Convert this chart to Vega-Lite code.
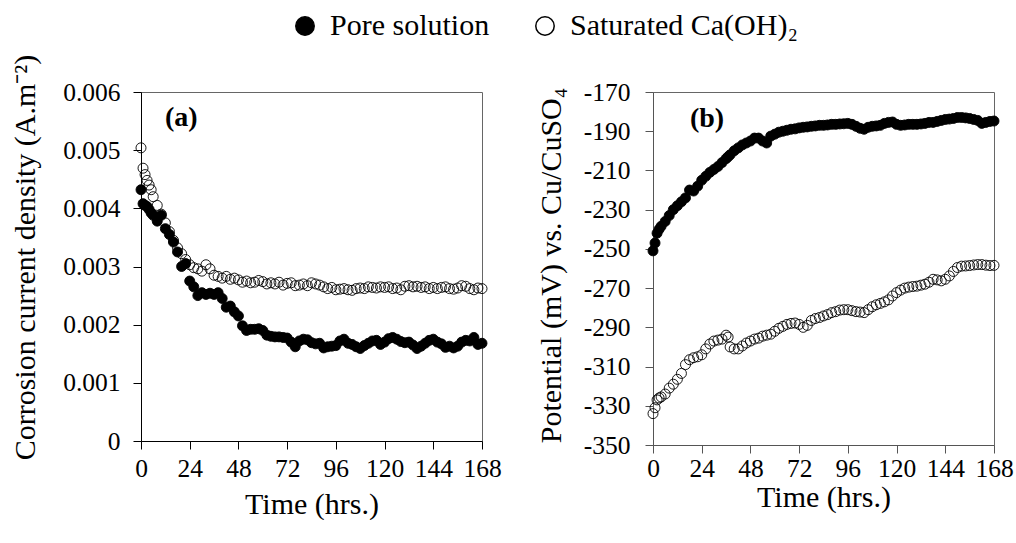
{
  "$schema": "https://vega.github.io/schema/vega-lite/v6.json",
  "padding": {"left": 9, "top": 10, "right": 0, "bottom": 0},
  "background": "white",
  "datasets": {
    "a": [
      {"t":0,"pore":0.00432,"sat":0.00504},{"t":1,"pore":0.00408,"sat":0.00469},{"t":2,"pore":0.00405,"sat":0.00458},
      {"t":3,"pore":0.00403,"sat":0.00448},{"t":4,"pore":0.00398,"sat":0.00440},{"t":5,"pore":0.00392,"sat":0.00432},
      {"t":6,"pore":0.00388,"sat":0.00420},{"t":8,"pore":0.00378,"sat":0.00405},{"t":10,"pore":0.00388,"sat":0.00390},
      {"t":12,"pore":0.00365,"sat":0.00375},{"t":14,"pore":0.00355,"sat":0.00360},{"t":16,"pore":0.00342,"sat":0.00345},
      {"t":18,"pore":0.00325,"sat":0.00332},{"t":20,"pore":0.00300,"sat":0.00322},{"t":22,"pore":0.00305,"sat":0.00312},
      {"t":24,"pore":0.00275,"sat":0.00303},{"t":26,"pore":0.00265,"sat":0.00298},{"t":28,"pore":0.00250,"sat":0.00296},
      {"t":30,"pore":0.00255,"sat":0.00292},{"t":32,"pore":0.00252,"sat":0.00303},{"t":34,"pore":0.00254,"sat":0.00296},
      {"t":36,"pore":0.00252,"sat":0.00285},{"t":38,"pore":0.00255,"sat":0.00283},{"t":40,"pore":0.00245,"sat":0.00280},
      {"t":42,"pore":0.00230,"sat":0.00283},{"t":44,"pore":0.00232,"sat":0.00278},{"t":46,"pore":0.00222,"sat":0.00280},
      {"t":48,"pore":0.00215,"sat":0.00277},{"t":50,"pore":0.00198,"sat":0.00273},{"t":52,"pore":0.00190,"sat":0.00275},
      {"t":54,"pore":0.00192,"sat":0.00272},{"t":56,"pore":0.00192,"sat":0.00273},{"t":58,"pore":0.00193,"sat":0.00276},
      {"t":60,"pore":0.00190,"sat":0.00274},{"t":62,"pore":0.00182,"sat":0.00270},{"t":64,"pore":0.00180,"sat":0.00272},
      {"t":66,"pore":0.00179,"sat":0.00270},{"t":68,"pore":0.00179,"sat":0.00273},{"t":70,"pore":0.00178,"sat":0.00268},
      {"t":72,"pore":0.00177,"sat":0.00271},{"t":74,"pore":0.00170,"sat":0.00272},{"t":76,"pore":0.00162,"sat":0.00267},
      {"t":78,"pore":0.00172,"sat":0.00268},{"t":80,"pore":0.00175,"sat":0.00270},{"t":82,"pore":0.00174,"sat":0.00267},
      {"t":84,"pore":0.00169,"sat":0.00272},{"t":86,"pore":0.00167,"sat":0.00270},{"t":88,"pore":0.00168,"sat":0.00268},
      {"t":90,"pore":0.00160,"sat":0.00265},{"t":92,"pore":0.00162,"sat":0.00262},{"t":94,"pore":0.00163,"sat":0.00264},
      {"t":96,"pore":0.00164,"sat":0.00260},{"t":98,"pore":0.00172,"sat":0.00261},{"t":100,"pore":0.00175,"sat":0.00262},
      {"t":102,"pore":0.00168,"sat":0.00260},{"t":104,"pore":0.00166,"sat":0.00259},{"t":106,"pore":0.00162,"sat":0.00262},
      {"t":108,"pore":0.00159,"sat":0.00263},{"t":110,"pore":0.00164,"sat":0.00262},{"t":112,"pore":0.00168,"sat":0.00265},
      {"t":114,"pore":0.00172,"sat":0.00264},{"t":116,"pore":0.00173,"sat":0.00263},{"t":118,"pore":0.00166,"sat":0.00265},
      {"t":120,"pore":0.00170,"sat":0.00264},{"t":122,"pore":0.00176,"sat":0.00265},{"t":124,"pore":0.00178,"sat":0.00262},
      {"t":126,"pore":0.00175,"sat":0.00263},{"t":128,"pore":0.00171,"sat":0.00260},{"t":130,"pore":0.00169,"sat":0.00266},
      {"t":132,"pore":0.00170,"sat":0.00267},{"t":134,"pore":0.00165,"sat":0.00265},{"t":136,"pore":0.00159,"sat":0.00266},
      {"t":138,"pore":0.00163,"sat":0.00264},{"t":140,"pore":0.00168,"sat":0.00265},{"t":142,"pore":0.00173,"sat":0.00262},
      {"t":144,"pore":0.00175,"sat":0.00264},{"t":146,"pore":0.00170,"sat":0.00262},{"t":148,"pore":0.00167,"sat":0.00264},
      {"t":150,"pore":0.00161,"sat":0.00265},{"t":152,"pore":0.00163,"sat":0.00262},{"t":154,"pore":0.00160,"sat":0.00261},
      {"t":156,"pore":0.00163,"sat":0.00263},{"t":158,"pore":0.00170,"sat":0.00267},{"t":160,"pore":0.00173,"sat":0.00266},
      {"t":162,"pore":0.00172,"sat":0.00262},{"t":164,"pore":0.00178,"sat":0.00260},{"t":166,"pore":0.00166,"sat":0.00263},
      {"t":168,"pore":0.00168,"sat":0.00262}
    ],
    "b": [
      {"t":0,"pore":-251,"sat":-334},{"t":1,"pore":-247,"sat":-331},{"t":2,"pore":-242,"sat":-327},
      {"t":3,"pore":-240,"sat":-326},{"t":4,"pore":-238.5,"sat":-325.5},{"t":6,"pore":-236,"sat":-324},
      {"t":8,"pore":-233,"sat":-321},{"t":10,"pore":-230,"sat":-319},{"t":12,"pore":-228,"sat":-316.5},
      {"t":14,"pore":-226,"sat":-313.5},{"t":16,"pore":-224,"sat":-309},{"t":18,"pore":-220,"sat":-306.5},
      {"t":20,"pore":-220.5,"sat":-305.5},{"t":22,"pore":-218,"sat":-305},{"t":24,"pore":-215,"sat":-304},
      {"t":26,"pore":-213,"sat":-301},{"t":28,"pore":-211,"sat":-298.5},{"t":30,"pore":-209.5,"sat":-297},
      {"t":32,"pore":-208,"sat":-296.5},{"t":34,"pore":-206,"sat":-296},{"t":36,"pore":-204,"sat":-294},
      {"t":37,"pore":-203,"sat":-295},{"t":38,"pore":-202,"sat":-300},{"t":40,"pore":-200,"sat":-301},
      {"t":42,"pore":-198.5,"sat":-301},{"t":44,"pore":-197,"sat":-299.5},{"t":46,"pore":-196,"sat":-298},
      {"t":48,"pore":-195,"sat":-297},{"t":50,"pore":-193.5,"sat":-296},{"t":52,"pore":-193.5,"sat":-295.5},
      {"t":54,"pore":-195,"sat":-294.5},{"t":56,"pore":-196,"sat":-294},{"t":58,"pore":-192.5,"sat":-293.5},
      {"t":60,"pore":-191.5,"sat":-292},{"t":62,"pore":-190.5,"sat":-290.5},{"t":64,"pore":-190,"sat":-289.5},
      {"t":66,"pore":-189.5,"sat":-288.5},{"t":68,"pore":-189,"sat":-288},{"t":70,"pore":-188.8,"sat":-287.8},
      {"t":72,"pore":-188.3,"sat":-288.5},{"t":74,"pore":-188,"sat":-290},{"t":76,"pore":-187.8,"sat":-289},
      {"t":78,"pore":-187.5,"sat":-286.5},{"t":80,"pore":-187.3,"sat":-285.5},{"t":82,"pore":-187,"sat":-285},
      {"t":84,"pore":-187,"sat":-284.2},{"t":86,"pore":-186.8,"sat":-283.5},{"t":88,"pore":-186.5,"sat":-282.5},
      {"t":90,"pore":-186.5,"sat":-282},{"t":92,"pore":-186.3,"sat":-281.2},{"t":94,"pore":-186.2,"sat":-281},
      {"t":96,"pore":-186,"sat":-281},{"t":98,"pore":-186.5,"sat":-281.5},{"t":100,"pore":-187.5,"sat":-282},
      {"t":102,"pore":-188.5,"sat":-282.2},{"t":104,"pore":-189,"sat":-282.5},{"t":106,"pore":-188,"sat":-281},
      {"t":108,"pore":-187.5,"sat":-279.5},{"t":110,"pore":-187.3,"sat":-278.5},{"t":112,"pore":-187,"sat":-277.8},
      {"t":114,"pore":-186,"sat":-277},{"t":116,"pore":-185.5,"sat":-276},{"t":118,"pore":-185.3,"sat":-274},
      {"t":120,"pore":-186.5,"sat":-272.3},{"t":122,"pore":-187,"sat":-271},{"t":124,"pore":-186.8,"sat":-270},
      {"t":126,"pore":-186.5,"sat":-269.5},{"t":128,"pore":-186.5,"sat":-269.2},{"t":130,"pore":-186.5,"sat":-269},
      {"t":132,"pore":-186.3,"sat":-268.5},{"t":134,"pore":-186,"sat":-268},{"t":136,"pore":-185.5,"sat":-267},
      {"t":138,"pore":-185.5,"sat":-265.5},{"t":140,"pore":-185,"sat":-265.8},{"t":142,"pore":-184.5,"sat":-266.3},
      {"t":144,"pore":-184,"sat":-265.5},{"t":146,"pore":-183.8,"sat":-263.8},{"t":148,"pore":-183.5,"sat":-261.5},
      {"t":150,"pore":-183,"sat":-259.5},{"t":152,"pore":-183,"sat":-258.8},{"t":154,"pore":-183.2,"sat":-258.7},
      {"t":156,"pore":-183.5,"sat":-258.5},{"t":158,"pore":-184,"sat":-258.2},{"t":160,"pore":-184.5,"sat":-258},
      {"t":162,"pore":-186,"sat":-258},{"t":164,"pore":-185.5,"sat":-258.3},{"t":166,"pore":-185,"sat":-258.5},
      {"t":168,"pore":-184.8,"sat":-258.4}
    ]
  },
  "bounds": "flush",
  "spacing": 171,
  "resolve": {"scale": {"x": "independent", "y": "independent", "fill": "independent"}},
  "hconcat": [
    {
      "width": 341,
      "height": 349,
      "layer": [
        {
          "data": {"name": "a"},
          "transform": [{"fold": ["pore", "sat"], "as": ["series", "value"]}],
          "mark": {"type": "point", "shape": "circle", "size": 100, "stroke": "black", "strokeWidth": 0.9, "opacity": 1},
          "encoding": {
            "x": {"field": "t", "type": "quantitative",
              "scale": {"domain": [0, 168], "nice": false},
              "axis": {"values": [0, 24, 48, 72, 96, 120, 144, 168], "tickCount": 20, "title": "Time (hrs.)", "labelOverlap": false,
                "labelBaseline": "alphabetic", "labelPadding": 27, "titleBaseline": "alphabetic", "titleY": 72}},
            "y": {"field": "value", "type": "quantitative",
              "scale": {"domain": [0, 0.006], "nice": false, "zero": false},
              "axis": {"values": [0, 0.001, 0.002, 0.003, 0.004, 0.005, 0.006], "tickCount": 20, "format": ".3~f", "labelOverlap": false,
                "title": "Corrosion current density (A.m⁻²)", "labelPadding": 13,
                "titleBaseline": "alphabetic", "titleX": -107, "titleY": 165}},
            "fill": {"field": "series", "type": "nominal",
              "scale": {"domain": ["pore", "sat"], "range": ["black", "transparent"]},
              "legend": {"orient": "none", "legendX": 149, "legendY": -81, "direction": "horizontal",
                "title": null, "symbolType": "circle", "symbolSize": 340, "symbolStrokeColor": "black",
                "symbolStrokeWidth": 1.5, "labelFont": "Liberation Serif", "labelFontSize": 30,
                "labelColor": "black", "labelOffset": 10, "columnPadding": 40, "labelLimit": 0,
                "labelExpr": "datum.label == 'pore' ? 'Pore solution' : 'Saturated Ca(OH)₂'"}},
            "order": {"field": "series"}
          }
        },
        {
          "data": {"values": [{"t": 11.8, "v": 0.005415, "label": "(a)"}]},
          "mark": {"type": "text", "font": "Liberation Serif", "fontSize": 28, "fontWeight": "bold", "align": "left", "baseline": "alphabetic", "color": "black"},
          "encoding": {
            "x": {"field": "t", "type": "quantitative"},
            "y": {"field": "v", "type": "quantitative"},
            "text": {"field": "label"}
          }
        }
      ]
    },
    {
      "width": 341,
      "height": 353,
      "layer": [
        {
          "data": {"name": "b"},
          "transform": [{"fold": ["pore", "sat"], "as": ["series", "value"]}],
          "mark": {"type": "point", "shape": "circle", "size": 100, "stroke": "black", "strokeWidth": 0.9, "opacity": 1},
          "encoding": {
            "x": {"field": "t", "type": "quantitative",
              "scale": {"domain": [0, 168], "nice": false},
              "axis": {"values": [0, 24, 48, 72, 96, 120, 144, 168], "tickCount": 20, "title": "Time (hrs.)", "labelOverlap": false,
                "labelBaseline": "alphabetic", "labelPadding": 23, "titleBaseline": "alphabetic", "titleY": 61,
                "domainColor": "#555", "tickColor": "#555"}},
            "y": {"field": "value", "type": "quantitative",
              "scale": {"domain": [-350, -170], "nice": false, "zero": false},
              "axis": {"values": [-350, -330, -310, -290, -270, -250, -230, -210, -190, -170], "tickCount": 20,
                "format": "d", "labelOverlap": false,
                "title": "Potential (mV) vs. Cu/CuSO₄", "labelPadding": 15,
                "titleBaseline": "alphabetic", "titleX": -93, "titleY": 173,
                "domainColor": "#555", "tickColor": "#555"}},
            "fill": {"field": "series", "type": "nominal",
              "scale": {"domain": ["pore", "sat"], "range": ["black", "transparent"]},
              "legend": null},
            "order": {"field": "series"}
          }
        },
        {
          "data": {"values": [{"t": 18.2, "v": -187.8, "label": "(b)"}]},
          "mark": {"type": "text", "font": "Liberation Serif", "fontSize": 28, "fontWeight": "bold", "align": "left", "baseline": "alphabetic", "color": "black"},
          "encoding": {
            "x": {"field": "t", "type": "quantitative"},
            "y": {"field": "v", "type": "quantitative"},
            "text": {"field": "label"}
          }
        }
      ]
    }
  ],
  "config": {
    "font": "Liberation Serif",
    "locale": {"number": {"decimal": ".", "thousands": ",", "grouping": [3], "currency": ["$", ""], "minus": "-"}},
    "view": {"stroke": "#666", "strokeWidth": 1},
    "axis": {
      "grid": false,
      "labelFont": "Liberation Serif", "labelFontSize": 25.5, "labelColor": "black",
      "titleFont": "Liberation Serif", "titleFontSize": 30, "titleFontWeight": "normal", "titleColor": "black",
      "tickSize": 8, "tickColor": "black", "domainColor": "black", "domainWidth": 1, "tickWidth": 1,
      "labelFlush": false, "labelOverlap": false
    }
  }
}
